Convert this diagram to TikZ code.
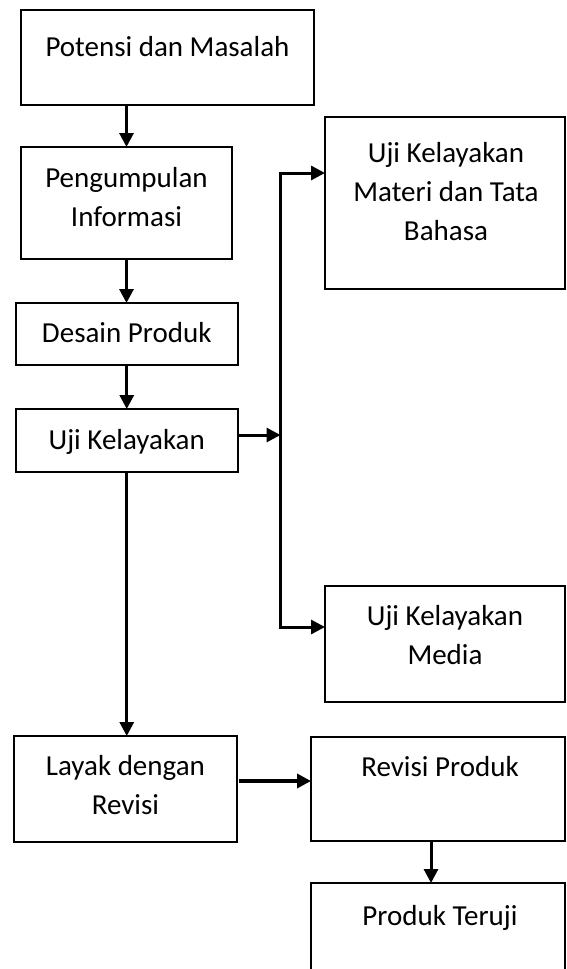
\documentclass[tikz,border=0pt]{standalone}
\usepackage{fontspec}
\setmainfont{Carlito}
\usetikzlibrary{arrows.meta,calc}
\newcommand\mlines[1]{\begin{tabular}[t]{@{}c@{}}#1\end{tabular}}
\begin{document}
\begin{tikzpicture}[x=1pt,y=-1pt,
  box/.style={draw, line width=2pt, inner sep=0pt, outer sep=0pt},
  txt/.style={anchor=base, inner sep=0pt, font=\fontsize{29}{39}\selectfont},
  arr/.style={line width=3pt, -{Triangle[length=14pt,width=14pt]}}]
\useasboundingbox (0,0) rectangle (566,969);
% boxes
\node[box, minimum width=293pt, minimum height=95pt] (b1) at (167.5,57.5) {};
\node[box, minimum width=211pt, minimum height=112pt] (b2) at (126.5,203) {};
\node[box, minimum width=221.5pt, minimum height=62pt] (b3) at (126.75,334) {};
\node[box, minimum width=221.5pt, minimum height=63pt] (b4) at (126.75,440.5) {};
\node[box, minimum width=240pt, minimum height=172pt] (b5) at (445,203) {};
\node[box, minimum width=240pt, minimum height=116pt] (b6) at (445,644) {};
\node[box, minimum width=222.8pt, minimum height=106pt] (b7) at (125.1,789) {};
\node[box, minimum width=254pt, minimum height=104pt] (b8) at (438,789) {};
\node[box, minimum width=254pt, minimum height=120pt] (b9) at (438,943) {};
% texts
\node[txt] (t1) at (167.5,56) {Potensi dan Masalah};
\node[txt] (t2) at (126.5,187) {\mlines{Pengumpulan\\Informasi}};
\node[txt] (t3) at (126.75,342) {Desain Produk};
\node[txt] (t4) at (126.75,449) {Uji Kelayakan};
\node[txt] (t5) at (446,162) {\mlines{Uji Kelayakan\\Materi dan Tata\\Bahasa}};
\node[txt] (t6) at (445,625) {\mlines{Uji Kelayakan\\Media}};
\node[txt] (t7) at (125.4,775) {\mlines{Layak dengan\\Revisi}};
\node[txt] (t8) at (440,776) {Revisi Produk};
\node[txt] (t9) at (440,925) {Produk Teruji};
% connectors
\coordinate (j0) at (280.5,435);
\coordinate (j1) at (280.5,173);
\coordinate (j2) at (280.5,627);
\draw[arr] (b1.south -| b2.north) -- (b2.north);
\draw[arr] (b2.south) -- (b2.south |- b3.north);
\draw[arr] (b3.south) -- (b4.north);
\draw[arr] (b4.east |- j0) -- (j0);
\draw[line width=3pt, line cap=rect] (j1) -- (j2);
\draw[arr] (j1) -- (j1 -| b5.west);
\draw[arr] (j2) -- (j2 -| b6.west);
\draw[arr] (b4.south) -- (b4.south |- b7.north);
\draw[arr, line width=3.5pt] ([shift={(2.5pt,8pt)}]b7.east) -- ([yshift=8pt]b8.west);
\draw[arr] ([xshift=-7pt]b8.south) -- ([xshift=-7pt]b8.south |- b9.north);
\end{tikzpicture}
\end{document}
